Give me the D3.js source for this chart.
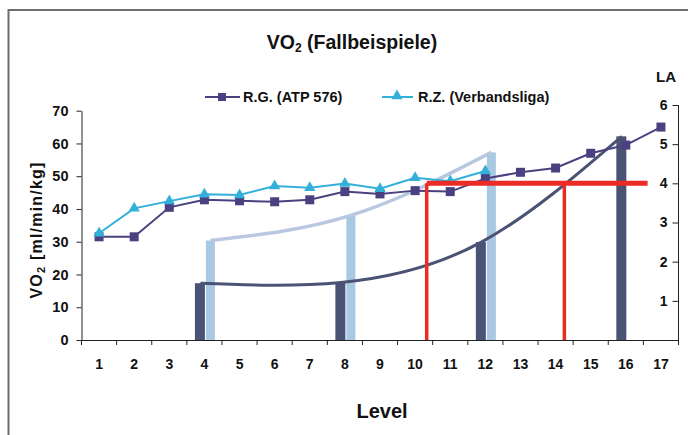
<!DOCTYPE html>
<html><head><meta charset="utf-8">
<script src="https://cdn.jsdelivr.net/npm/d3@7"></script>
<style>
html,body{margin:0;padding:0;background:#fff;}
svg text{font-family:"Liberation Sans",Arial,sans-serif;font-weight:bold;fill:#111;}
</style></head>
<body><svg id="c" width="688" height="435"></svg>
<script>
// ---- data ----
const levels = [1,2,3,4,5,6,7,8,9,10,11,12,13,14,15,16,17];
const vo2RG = [31.5,31.5,40.5,42.8,42.5,42.2,42.8,45.3,44.6,45.6,45.3,49.3,51.2,52.5,57,59.5,65];
const rzLevels = [1,2,3,4,5,6,7,8,9,10,11,12];
const vo2RZ = [32.6,40.2,42.4,44.5,44.3,47,46.5,47.8,46.2,49.5,48.5,51.6];
const laLevels = [4,8,12,16];
const laRG = [1.45,1.47,2.5,5.2];
const laRZLevels = [4,8,12];
const laRZ = [2.54,3.18,4.79];
const laThreshold = 4;
const thresholdLevels = [10.33,14.25];
const thresholdEnd = 16.62;
const leftTicks = [0,10,20,30,40,50,60,70];
const rightTicks = [1,2,3,4,5,6];
const seriesNames = ["R.G. (ATP 576)","R.Z. (Verbandsliga)"];

// ---- layout ----
const svg = d3.select("#c");
const X0 = 81.5, X1 = 678.5, Y0 = 340;
const x = d3.scaleBand().domain(levels).range([X0, X1]);
const xl = d3.scaleLinear().domain([0.5, 17.5]).range([X0, X1]);
const yL = d3.scaleLinear().domain([0,70]).range([Y0, 110.7]);
const yR = d3.scaleLinear().domain([0,6]).range([Y0, 105]);
const cx = l => x(l) + x.bandwidth()/2;

const cDark = "#4a4180", cCyan = "#33b0da", cBarD = "#4a5373", cBarL = "#a9c8e2",
      cCurveD = "#4b5375", cCurveL = "#b9c8e0", cRed = "#ec2c24";

// border
svg.append("path").attr("d","M8.5,435 V10 H688").attr("fill","none")
   .attr("stroke","#6e6e6e").attr("stroke-width",2);

// bars
svg.append("g").selectAll("rect").data(laLevels).join("rect")
  .attr("x", d => cx(d) - 9.5).attr("width", 10)
  .attr("y", (d,i) => yR(laRG[i])).attr("height", (d,i) => Y0 - yR(laRG[i]))
  .attr("fill", cBarD);
svg.append("g").selectAll("rect").data(laRZLevels).join("rect")
  .attr("x", d => cx(d) + 1.5).attr("width", 9)
  .attr("y", (d,i) => yR(laRZ[i])).attr("height", (d,i) => Y0 - yR(laRZ[i]))
  .attr("fill", cBarL);

// trend curves
const curve = d3.line().curve(d3.curveNatural);
svg.append("path")
  .attr("d", curve(laRZLevels.map((l,i) => [cx(l)+6, yR(laRZ[i])])))
  .attr("fill","none").attr("stroke", cCurveL).attr("stroke-width",3.5);
svg.append("path")
  .attr("d", curve(laLevels.map((l,i) => [cx(l)-4, yR(laRG[i])])))
  .attr("fill","none").attr("stroke", cCurveD).attr("stroke-width",3);

// VO2 lines
const lineL = d3.line();
svg.append("path")
  .attr("d", lineL(levels.map((l,i) => [cx(l), yL(vo2RG[i])])))
  .attr("fill","none").attr("stroke", cDark).attr("stroke-width",2);
svg.append("g").selectAll("rect").data(levels).join("rect")
  .attr("x", d => cx(d)-4.5).attr("y", (d,i) => yL(vo2RG[i])-4.5)
  .attr("width",9).attr("height",9).attr("fill", cDark);
svg.append("path")
  .attr("d", lineL(rzLevels.map((l,i) => [cx(l), yL(vo2RZ[i])])))
  .attr("fill","none").attr("stroke", cCyan).attr("stroke-width",2);
const tri = d3.symbol().type(d3.symbolTriangle).size(55);
svg.append("g").selectAll("path").data(rzLevels).join("path")
  .attr("d", tri).attr("transform", (d,i) => `translate(${cx(d)},${yL(vo2RZ[i])})`)
  .attr("fill", cCyan);

// red threshold lines
svg.append("line").attr("x1", xl(thresholdLevels[0])).attr("x2", xl(thresholdEnd))
  .attr("y1", yR(laThreshold)).attr("y2", yR(laThreshold))
  .attr("stroke", cRed).attr("stroke-width",5);
svg.append("g").selectAll("line").data(thresholdLevels).join("line")
  .attr("x1", d => xl(d)).attr("x2", d => xl(d))
  .attr("y1", yR(laThreshold)).attr("y2", Y0)
  .attr("stroke", cRed).attr("stroke-width",3.5);

// axes
const gL = svg.append("g").attr("transform",`translate(${X0},0)`)
  .call(d3.axisLeft(yL).tickValues(leftTicks).tickSize(5).tickPadding(8).tickSizeOuter(0));
gL.selectAll("text").style("font-size","14.5px");
const gR = svg.append("g").attr("transform",`translate(${X1},0)`)
  .call(d3.axisLeft(yR).tickValues(rightTicks).tickFormat(d3.format("d")).tickSize(6).tickPadding(5).tickSizeOuter(0));
gR.selectAll("text").style("font-size","14px");
gR.select(".domain").attr("d", `M0,${yR(6)}V${Y0}`);
const gB = svg.append("g").attr("transform",`translate(0,${Y0})`)
  .call(d3.axisBottom(x).tickSize(0).tickPadding(19));
gB.selectAll("text").style("font-size","14px");
gB.selectAll(".tk").data(d3.range(levels.length+1)).join("line").attr("class","tk")
  .attr("x1", d => X0 + d*x.step()).attr("x2", d => X0 + d*x.step())
  .attr("y1",0).attr("y2",5).attr("stroke","#000");
[gL,gR,gB].forEach(g => g.selectAll(".domain,line").attr("stroke","#222"));

// texts
const title = svg.append("text").attr("x",352).attr("y",49).attr("text-anchor","middle")
  .style("font-size","19.5px");
title.append("tspan").text("VO");
title.append("tspan").text("2").style("font-size","12px").attr("dy",3);
title.append("tspan").text(" (Fallbeispiele)").attr("dy",-3);

svg.append("text").attr("x",666).attr("y",82).attr("text-anchor","middle")
  .style("font-size","15px").text("LA");

const yl = svg.append("text").attr("transform","translate(42,230) rotate(-90)")
  .attr("text-anchor","middle").style("font-size","16px").style("letter-spacing","1.2px");
yl.append("tspan").text("VO");
yl.append("tspan").text("2").style("font-size","11px").attr("dy",3);
yl.append("tspan").text(" [ml/min/kg]").attr("dy",-3);

svg.append("text").attr("x",382).attr("y",418).attr("text-anchor","middle")
  .style("font-size","20px").text("Level");

// legend
const leg = svg.append("g");
leg.append("line").attr("x1",205).attr("x2",240).attr("y1",97).attr("y2",97)
  .attr("stroke",cDark).attr("stroke-width",2);
leg.append("rect").attr("x",218).attr("y",93).attr("width",8).attr("height",8).attr("fill",cDark);
leg.append("text").attr("x",243).attr("y",102).style("font-size","14.5px").text(seriesNames[0]);
leg.append("line").attr("x1",382).attr("x2",413).attr("y1",97).attr("y2",97)
  .attr("stroke",cCyan).attr("stroke-width",2);
leg.append("path").attr("d",tri).attr("transform","translate(397,96)").attr("fill",cCyan);
leg.append("text").attr("x",418).attr("y",102).style("font-size","14.5px").text(seriesNames[1]);
</script></body></html>
